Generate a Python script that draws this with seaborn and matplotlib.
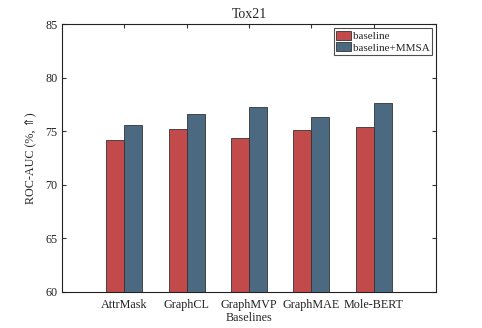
import matplotlib
matplotlib.use("Agg")
import matplotlib.pyplot as plt
import seaborn as sns
import pandas as pd

categories = ["AttrMask", "GraphCL", "GraphMVP", "GraphMAE", "Mole-BERT"]
baseline = [74.2, 75.2, 74.4, 75.1, 75.4]
baseline_mmsa = [75.6, 76.6, 77.3, 76.3, 77.6]
series_names = ["baseline", "baseline+MMSA"]
yticks = [60, 65, 70, 75, 80, 85]

df = pd.DataFrame({
    "Baselines": categories * 2,
    "value": baseline + baseline_mmsa,
    "series": [series_names[0]] * len(categories) + [series_names[1]] * len(categories),
})

sns.set_style("white")
plt.rcParams["font.family"] = ["Liberation Serif", "DejaVu Serif"]

fig = plt.figure(figsize=(4.82, 3.28), dpi=100)
ax = fig.add_axes([0.1286, 0.1098, 0.7760, 0.8170])

sns.barplot(data=df, x="Baselines", y="value", hue="series",
            palette=["#C34A4A", "#4B6A82"], saturation=1, width=0.58, gap=0,
            edgecolor="#333333", linewidth=0.6, ax=ax, legend=True)

fs = 8.7
ax.set_ylim(60, 85)
ax.set_xlim(-1, 5)
ax.set_yticks(yticks)
ax.set_yticklabels([str(t) for t in yticks], fontsize=fs)
ax.set_xticks(range(len(categories)))
ax.set_xticklabels(categories, fontsize=fs)
ax.tick_params(axis="both", direction="in", length=3, width=0.8, color="#333333",
               top=True, right=True, bottom=False, left=True, pad=3, colors="#222222")
ax.tick_params(axis="x", bottom=False, top=True, pad=5)
ax.set_xlabel("Baselines", fontsize=fs, labelpad=1)
ax.set_ylabel("ROC-AUC (%, \u21d1)", fontsize=fs, labelpad=6,
              family=["Liberation Serif", "DejaVu Sans"])
ax.set_title("Tox21", fontsize=10, pad=4)
for s in ax.spines.values():
    s.set_visible(True)
    s.set_color("#222222")
    s.set_linewidth(0.8)

leg = ax.legend(loc="upper right", fontsize=8, frameon=True, fancybox=False,
                edgecolor="#222222", borderpad=0.2, handlelength=1.4, handleheight=0.9,
                handletextpad=0.1, labelspacing=0.1, borderaxespad=0.4)
leg.get_frame().set_linewidth(0.8)

fig.savefig("out.png", dpi=100)
